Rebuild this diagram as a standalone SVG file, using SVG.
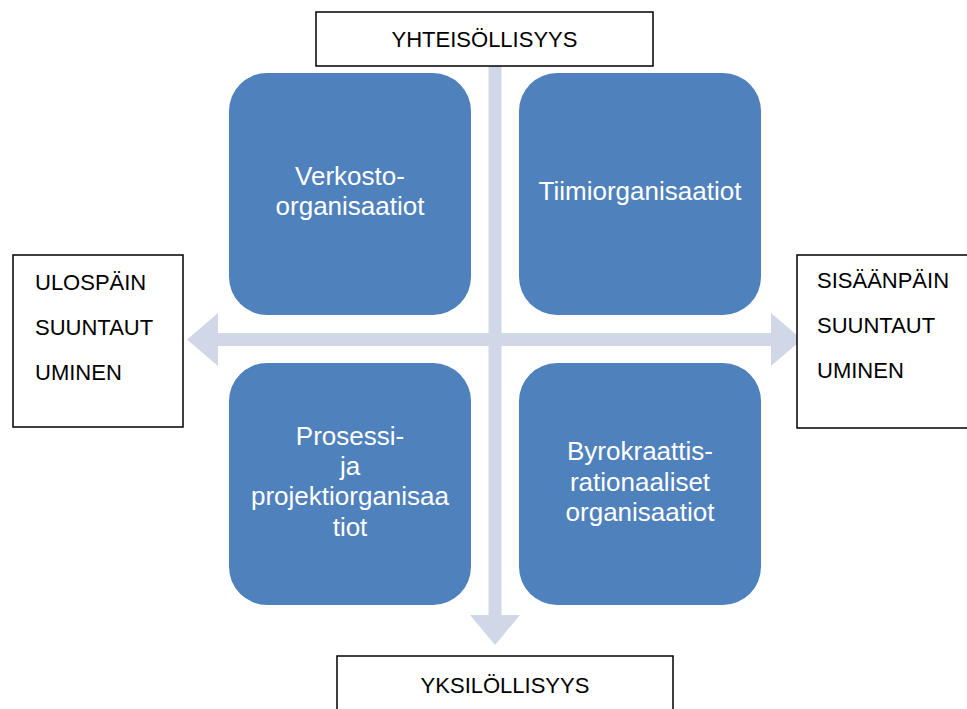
<svg xmlns="http://www.w3.org/2000/svg" width="967" height="709" viewBox="0 0 967 709">
<style>
.arrow{fill:#D0D8E8;stroke:none}
.quad{fill:#4F81BD;stroke:none}
.qt{font-family:"Liberation Sans",Arial,sans-serif;font-size:26px;fill:#FFFFFF;text-anchor:middle}
.lbl{fill:#FFFFFF;stroke:#000000;stroke-width:1.5}
.lt{font-family:"Liberation Sans",Arial,sans-serif;font-size:22px;fill:#000000}
.mid{text-anchor:middle}
</style>
<rect width="967" height="709" fill="#FFFFFF"/>
<g id="connectors">
<polygon class="arrow" points="187,339.5 218,313 218,333 771,333 771,313 802,339.5 771,366 771,346 218,346 218,366"/>
<polygon class="arrow" points="495,33 520,63 501.5,63 501.5,615 520,615 495,645 470,615 488.5,615 488.5,63 470,63"/>
</g>
<g id="node-verkosto">
<rect class="quad" x="229" y="73" width="242" height="242" rx="38" ry="38"/>
<text class="qt" x="350" y="185">Verkosto-</text>
<text class="qt" x="350" y="215">organisaatiot</text>
</g>
<g id="node-tiimi">
<rect class="quad" x="519" y="73" width="242" height="242" rx="38" ry="38"/>
<text class="qt" x="640" y="200">Tiimiorganisaatiot</text>
</g>
<g id="node-prosessi">
<rect class="quad" x="229" y="363" width="242" height="242" rx="38" ry="38"/>
<text class="qt" x="350" y="445">Prosessi-</text>
<text class="qt" x="350" y="475">ja</text>
<text class="qt" x="350" y="505">projektiorganisaa</text>
<text class="qt" x="350" y="536">tiot</text>
</g>
<g id="node-byrokraattis">
<rect class="quad" x="519" y="363" width="242" height="242" rx="38" ry="38"/>
<text class="qt" x="640" y="460">Byrokraattis-</text>
<text class="qt" x="640" y="491">rationaaliset</text>
<text class="qt" x="640" y="521">organisaatiot</text>
</g>
<g id="label-yhteisollisyys">
<rect class="lbl" x="316" y="12" width="337" height="54"/>
<text class="lt mid" x="484.5" y="47">YHTEISÖLLISYYS</text>
</g>
<g id="label-yksilollisyys">
<rect class="lbl" x="337" y="656" width="336" height="60"/>
<text class="lt mid" x="505" y="693">YKSILÖLLISYYS</text>
</g>
<g id="label-ulospain">
<rect class="lbl" x="13" y="255" width="170" height="172"/>
<text class="lt" x="35" y="290">ULOSPÄIN</text>
<text class="lt" x="35" y="335">SUUNTAUT</text>
<text class="lt" x="35" y="380">UMINEN</text>
</g>
<g id="label-sisaanpain">
<rect class="lbl" x="797" y="255" width="175" height="173"/>
<text class="lt" x="817" y="288">SISÄÄNPÄIN</text>
<text class="lt" x="817" y="333">SUUNTAUT</text>
<text class="lt" x="817" y="378">UMINEN</text>
</g>
</svg>
